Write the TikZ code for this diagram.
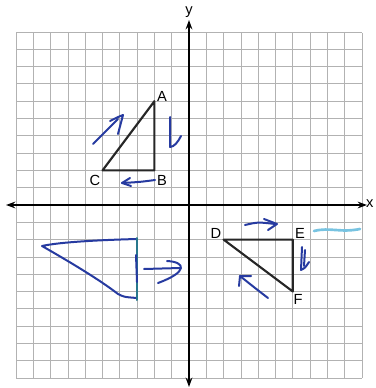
\documentclass[tikz,border=0pt]{standalone}
\usepackage{fontspec}
\setmainfont{Liberation Sans}
\usetikzlibrary{arrows.meta}
\definecolor{ink}{RGB}{38,58,160}
\definecolor{lightink}{RGB}{120,195,225}
\definecolor{tealink}{RGB}{40,120,140}
\begin{document}
\begin{tikzpicture}[x=0.75pt,y=-0.75pt,
  gridline/.style={black!30,line width=0.6pt},
  axis/.style={line width=1.3pt,{Stealth[length=7pt,width=5pt]}-{Stealth[length=7pt,width=5pt]}},
  tri/.style={line width=1.6pt,black!85,line join=round},
  lbl/.style={font=\fontsize{11}{11}\selectfont,inner sep=1pt},
  pen/.style={ink,line width=1.5pt,line cap=round,line join=round}]
\useasboundingbox (0,0) rectangle (375,388);
% grid
\foreach \i in {-10,...,10}{
  \draw[gridline] ({189+17.3*\i},33) -- ({189+17.3*\i},378);
  \draw[gridline] (16,{205+17.3*\i}) -- (362,{205+17.3*\i});
}
% axes
\coordinate (xl) at (6,205);
\coordinate (xr) at (367,205);
\coordinate (yt) at (189,20);
\coordinate (yb) at (189,387);
\draw[axis] (xl) -- (xr);
\draw[axis] (yb) -- (yt);
\node[lbl,anchor=south] (ylab) at (189,19) {y};
\node[lbl,anchor=east] (xlab) at (375,204) {x};
% triangle ABC
\coordinate (A) at (154.4,101.2);
\coordinate (B) at (154.4,170.4);
\coordinate (C) at (102.5,170.4);
\draw[tri] (A) -- (B) -- (C) -- cycle;
\node[lbl] (Alab) at (162,96) {A};
\node[lbl] (Blab) at (162,180) {B};
\node[lbl] (Clab) at (95,180) {C};
% triangle DEF
\coordinate (D) at (223.6,239.6);
\coordinate (E) at (292.8,239.6);
\coordinate (F) at (292.8,291.5);
\draw[tri] (D) -- (E) -- (F) -- cycle;
\node[lbl] (Dlab) at (216,233) {D};
\node[lbl] (Elab) at (300,233) {E};
\node[lbl] (Flab) at (298,299) {F};
% handwritten arrows near ABC
\draw[pen] (93,144) .. controls (104,133) .. (118,119);
\draw[pen] (110,121) .. controls (118,117) .. (123,115) .. controls (121,124) .. (118,134);
\draw[pen] (170,117) -- (170,147) .. controls (174,147) and (178,142) .. (181,136);
\draw[pen] (155,180) .. controls (140,182) .. (122,183);
\draw[pen] (130,178) -- (122,183) -- (131,186);
% handwritten shape lower left
\draw[pen] (137,239) .. controls (100,240) and (60,242) .. (42,246)
  .. controls (70,262) and (100,280) .. (118,294) .. controls (124,297) .. (137,298);
\draw[pen,tealink] (137,238) -- (137,300);
\draw[pen] (136,255) -- (137,282);
\draw[pen] (144,269) -- (180,268);
\draw[pen] (167,261) .. controls (186,262) and (188,272) .. (158,283);
% handwritten arrows near DEF
\draw[pen] (245,225) .. controls (258,222) .. (275,224);
\draw[pen] (264,219) -- (277,224) -- (268,230);
\draw[pen] (302,247) -- (301,270) .. controls (305,268) .. (309,262);
\draw[pen] (305,250) -- (304,266);
\draw[pen] (268,298) .. controls (255,288) .. (240,276);
\draw[pen] (239,286) -- (240,276) -- (251,276);
\draw[lightink,line width=2pt,line cap=round] (314,231) .. controls (330,227) and (340,233) .. (360,229);
\end{tikzpicture}
\end{document}
